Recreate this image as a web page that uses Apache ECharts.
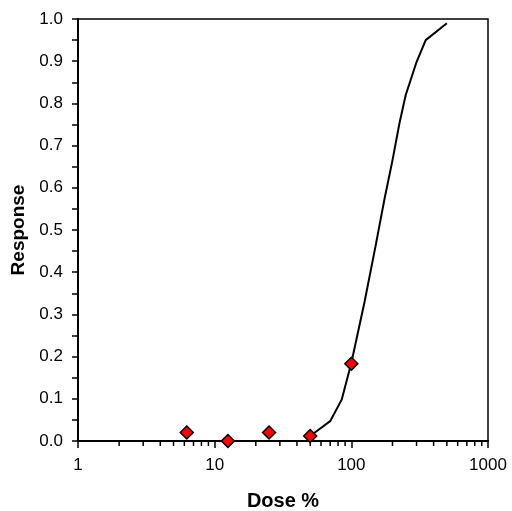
<!DOCTYPE html>
<html>
<head>
<meta charset="utf-8">
<script src="https://cdn.jsdelivr.net/npm/echarts@6/dist/echarts.min.js"></script>
<style>html,body{margin:0;padding:0;background:#fff}#c{width:512px;height:511px}</style>
</head>
<body>
<div id="c"></div>
<script>
var obsDose = [6.25, 12.5, 25, 50, 100];
var obsResp = [0.02, 0.0, 0.02, 0.012, 0.183];
var curveDose = [50, 70, 85, 100, 125, 150, 175, 200, 225, 250, 300, 350, 500];
var curveResp = [0.012, 0.047, 0.098, 0.185, 0.33, 0.46, 0.574, 0.665, 0.753, 0.82, 0.898, 0.95, 0.99];
var xMinorTicks = [2,3,4,5,6,7,8,9,20,30,40,50,60,70,80,90,200,300,400,500,600,700,800,900];
var xTitle = 'Dose %';
var yTitle = 'Response';

var FONT = '"Liberation Sans", Arial, sans-serif';
var chart = echarts.init(document.getElementById('c'));
function zip(a, b) { return a.map(function (v, i) { return [v, b[i]]; }); }

chart.setOption({
  animation: false,
  backgroundColor: '#fff',
  grid: { left: 78, right: 24, top: 19, bottom: 70, outerBoundsMode: 'none', containLabel: false, show: true, borderColor: '#000', borderWidth: 1.5, backgroundColor: 'transparent' },
  xAxis: {
    type: 'log', logBase: 10, min: 1, max: 1000,
    name: xTitle, nameLocation: 'middle', nameGap: 50,
    nameTextStyle: { fontFamily: FONT, fontSize: 20, fontWeight: 'bold', color: '#000' },
    axisLine: { show: true, lineStyle: { color: '#000', width: 2 } },
    axisTick: { show: true, inside: false, length: 7, lineStyle: { color: '#000', width: 1.5 } },
    minorTick: { show: false },
    splitLine: { show: false },
    axisLabel: { fontFamily: FONT, fontSize: 17, color: '#000', margin: 16, formatter: function (v) { return String(Math.round(v)); } }
  },
  yAxis: {
    type: 'value', min: 0, max: 1, interval: 0.1,
    name: yTitle, nameLocation: 'middle', nameGap: 50,
    nameTextStyle: { fontFamily: FONT, fontSize: 19, fontWeight: 'bold', color: '#000' },
    axisLine: { show: true, lineStyle: { color: '#000', width: 2 } },
    axisTick: { show: true, inside: false, length: 6, lineStyle: { color: '#000', width: 1.5 } },
    minorTick: { show: true, splitNumber: 2, length: 6, lineStyle: { color: '#000', width: 1.5 } },
    splitLine: { show: false },
    axisLabel: { fontFamily: FONT, fontSize: 17, color: '#000', margin: 15, formatter: function (v) { return v.toFixed(1); } }
  },
  series: [
    {
      type: 'line', data: zip(curveDose, curveResp), showSymbol: false, symbol: 'none', smooth: false,
      lineStyle: { color: '#000', width: 2 }, z: 3
    },
    {
      type: 'scatter', data: zip(obsDose, obsResp), symbol: 'diamond', symbolSize: 13,
      itemStyle: { color: '#ff0000', opacity: 1, borderColor: '#000', borderWidth: 1.5 }, z: 5
    },
    {
      type: 'custom', clip: false, silent: true, z: 6,
      data: xMinorTicks.map(function (v) { return [v, 0]; }),
      renderItem: function (params, api) {
        var p = api.coord([api.value(0), 0]);
        return { type: 'line', shape: { x1: p[0], y1: p[1], x2: p[0], y2: p[1] + 5 }, style: { stroke: '#000', lineWidth: 1.5 } };
      }
    }
  ]
});
</script>
</body>
</html>
